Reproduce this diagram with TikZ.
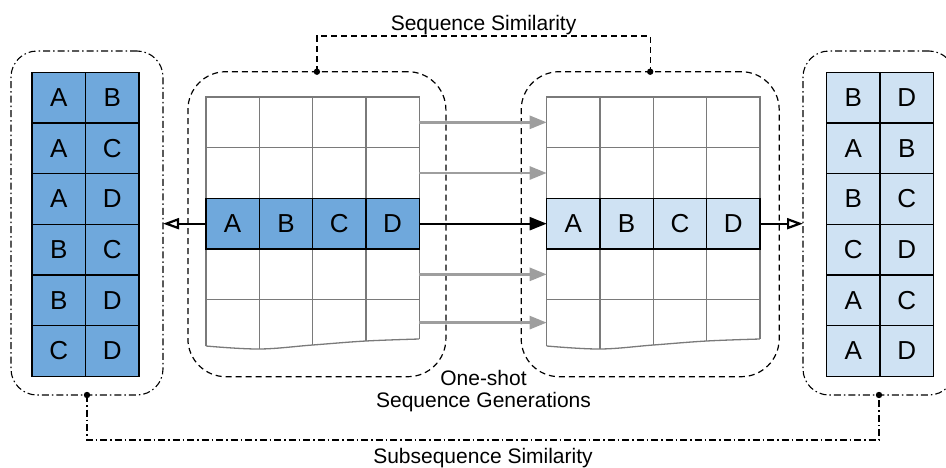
\documentclass[tikz,border=0pt]{standalone}
\usepackage{fontspec}
\setmainfont{Liberation Sans}
\usetikzlibrary{arrows.meta, positioning, calc}

\definecolor{seqdark}{HTML}{6FA8DC}
\definecolor{seqlight}{HTML}{CFE2F3}
\definecolor{gridgray}{HTML}{7A7A7A}
\definecolor{flowgray}{HTML}{9E9E9E}

\tikzstyle{pair} = [rectangle, minimum width=53.5pt, minimum height=50.7pt, inner sep=0pt, outer sep=0pt, draw=black, line width=1.2pt, font=\fontsize{26}{28}\selectfont]
\tikzstyle{cell} = [rectangle, minimum width=53.3pt, minimum height=50.7pt, inner sep=0pt, outer sep=0pt, draw=gridgray, line width=1.3pt, font=\fontsize{26}{28}\selectfont]
\tikzstyle{gridline} = [draw=gridgray, line width=1.3pt]
\tikzstyle{gen} = [rectangle, rounded corners=38pt, draw=black, line width=1.2pt, dash pattern=on 6pt off 4pt, minimum width=258pt, minimum height=305pt, outer sep=0pt]
\tikzstyle{subset} = [rectangle, rounded corners=26pt, draw=black, line width=1.1pt, dash pattern=on 7pt off 3pt on 1.5pt off 3pt, minimum width=152pt, minimum height=344pt, outer sep=0pt]
\tikzstyle{simtext} = [font=\fontsize{21}{22}\selectfont, align=center]
\tikzstyle{simlink} = [line width=1.2pt, dash pattern=on 6pt off 4pt]
\tikzstyle{sublink} = [line width=1.1pt, dash pattern=on 7pt off 3pt on 1.5pt off 3pt]
\tikzstyle{outarrow} = [line width=2.2pt, -{Triangle[open, length=16pt, width=11pt]}]
\tikzstyle{mainarrow} = [line width=2.2pt, -{Triangle[length=17pt, width=13pt]}]
\tikzstyle{copyarrow} = [line width=2.6pt, draw=flowgray, -{Triangle[length=17pt, width=13pt, fill=flowgray]}]

\begin{document}
\begin{tikzpicture}[x=1pt, y=-1pt]
\useasboundingbox (0,0) rectangle (946,467);

% Boxes around the generated sequences and the pair sets
\node (lgen) [gen] at (316.9,224.2) {};
\node (rgen) [gen] at (650.2,224.2) {};
\node (lset) [subset] at (87,223) {};
\node (rset) [subset] at (879,223) {};

% Pair tables
\foreach \a/\b [count=\i] in {A/B,A/C,A/D,B/C,B/D,C/D} {
  \node (lp\i a) [pair, fill=seqdark] at (58.75, 46.97+50.67*\i) {\a};
  \node (lp\i b) [pair, fill=seqdark, right=0pt of lp\i a] {\b};
}
\foreach \a/\b [count=\i] in {B/D,A/B,B/C,C/D,A/C,A/D} {
  \node (rp\i a) [pair, fill=seqlight] at (853.25, 46.97+50.67*\i) {\a};
  \node (rp\i b) [pair, fill=seqlight, right=0pt of rp\i a] {\b};
}

% Sequence grids
\foreach \g/\x in {L/179.35, R/520.05} {
  \foreach \r in {1,2,4}
    \foreach \c in {1,...,4}
      \node (\g\r\c) [cell] at (\x+53.3*\c, 71.66+50.67*\r) {};
  \foreach \c in {1,...,4}
    \node (\g5\c) [cell, draw=none, minimum height=46pt] at (\x+53.3*\c, 322.6) {};
}
\foreach \t [count=\c] in {A,B,C,D} {
  \node (L3\c) [cell, draw=black, fill=seqdark] at (179.35+53.3*\c, 223.67) {\t};
  \node (R3\c) [cell, draw=black, fill=seqlight] at (520.05+53.3*\c, 223.67) {\t};
}

% torn bottom row of each grid
\foreach \g in {L,R} {
  \foreach \c/\dy in {1/0.4, 2/3.4, 3/-0.6, 4/-4.6}
    \draw [gridline] (\g5\c.north west) -- ($(\g5\c.south west)+(0,\dy)$);
  \draw [gridline] (\g54.north east) -- ($(\g54.south east)+(0,-6.6)$);
  \draw [gridline] plot [smooth, tension=0.6] coordinates {
    ($(\g51.south west)+(0,0.4)$) ($(\g52.south west)+(0,3.4)$)
    ($(\g53.south west)+(0,-0.6)$) ($(\g54.south west)+(0,-4.6)$)
    ($(\g54.south east)+(0,-6.6)$)};
}

% Arrows
\foreach \r in {1,2,4,5}
  \draw [copyarrow] (L\r4.east) -- (R\r1.west);
\draw [mainarrow] (L34.east) -- (R31.west);
\draw [outarrow] (L31.west) -- (L31.west -| lset.east);
\draw [outarrow] (R34.east) -- (R34.east -| rset.west);

% Similarity links
\draw [simlink] (lgen.north) |- node [simtext, above=1pt, inner sep=0pt, pos=0.75] (seqsim) {Sequence Similarity} ($(rgen.north)+(0,-35.7)$) -- (rgen.north);
\fill (lgen.north) circle (3.2pt);
\fill (rgen.north) circle (3.2pt);

\draw [sublink] (lset.south) |- node [simtext, below=8pt, inner sep=0pt, pos=0.75] (subsim) {Subsequence Similarity} ($(rset.south)+(0,45)$) -- (rset.south);
\fill (lset.south) circle (3.2pt);
\fill (rset.south) circle (3.2pt);

\node (oneshot) [simtext] at (483.5,391) {One-shot\\Sequence Generations};

\end{tikzpicture}
\end{document}
